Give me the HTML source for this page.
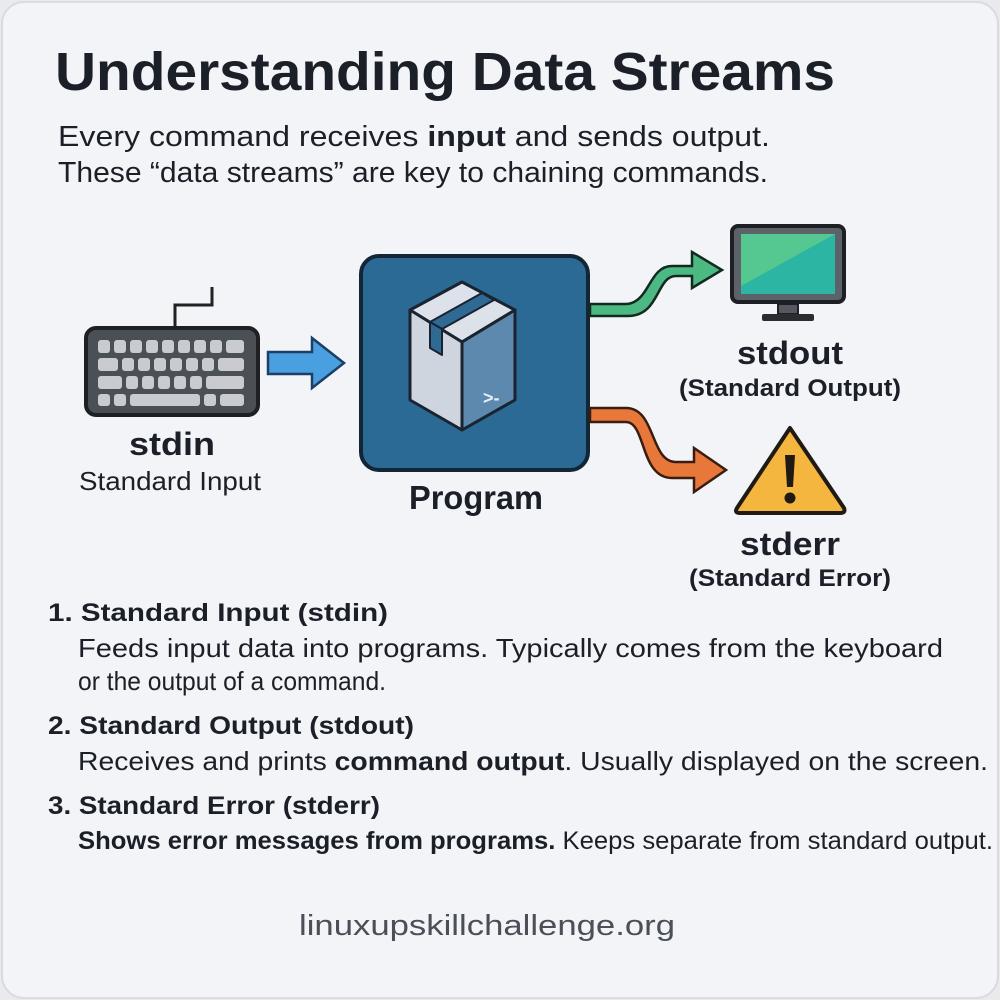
<!DOCTYPE html>
<html><head><meta charset="utf-8"><style>
html,body{margin:0;padding:0;background:#e9eaee}
svg{display:block}
text{font-family:"Liberation Sans",sans-serif;fill:#1b1f27}
</style></head><body>
<svg width="1000" height="1000" viewBox="0 0 1000 1000" xmlns="http://www.w3.org/2000/svg">
<rect x="2" y="2" width="996" height="996" rx="22" fill="#f3f4f8" stroke="#d9dbe0" stroke-width="2"/>
<text x="55" y="90" font-size="54" font-weight="bold" fill="#172235" textLength="780" lengthAdjust="spacingAndGlyphs">Understanding Data Streams</text>
<text x="58" y="146" font-size="29" textLength="712" lengthAdjust="spacingAndGlyphs">Every command receives <tspan font-weight="bold">input</tspan> and sends output.</text>
<text x="58" y="182" font-size="29" textLength="710" lengthAdjust="spacingAndGlyphs">These “data streams” are key to chaining commands.</text>

<!-- keyboard -->
<path d="M175 330 V305 H212 V287" fill="none" stroke="#222" stroke-width="3"/>
<rect x="86" y="328" width="172" height="87" rx="10" fill="#4b4f56" stroke="#1e2024" stroke-width="4"/>
<g fill="#c9cbd0">
<rect x="98" y="340" width="12" height="13" rx="3"/><rect x="114" y="340" width="12" height="13" rx="3"/><rect x="130" y="340" width="12" height="13" rx="3"/><rect x="146" y="340" width="12" height="13" rx="3"/><rect x="162" y="340" width="12" height="13" rx="3"/><rect x="178" y="340" width="12" height="13" rx="3"/><rect x="194" y="340" width="12" height="13" rx="3"/><rect x="210" y="340" width="12" height="13" rx="3"/><rect x="226" y="340" width="18" height="13" rx="3"/>
<rect x="98" y="358" width="20" height="13" rx="3"/><rect x="122" y="358" width="12" height="13" rx="3"/><rect x="138" y="358" width="12" height="13" rx="3"/><rect x="154" y="358" width="12" height="13" rx="3"/><rect x="170" y="358" width="12" height="13" rx="3"/><rect x="186" y="358" width="12" height="13" rx="3"/><rect x="202" y="358" width="12" height="13" rx="3"/><rect x="218" y="358" width="26" height="13" rx="3"/>
<rect x="98" y="376" width="24" height="13" rx="3"/><rect x="126" y="376" width="12" height="13" rx="3"/><rect x="142" y="376" width="12" height="13" rx="3"/><rect x="158" y="376" width="12" height="13" rx="3"/><rect x="174" y="376" width="12" height="13" rx="3"/><rect x="190" y="376" width="12" height="13" rx="3"/><rect x="206" y="376" width="38" height="13" rx="3"/>
<rect x="98" y="394" width="12" height="12" rx="3"/><rect x="114" y="394" width="12" height="12" rx="3"/><rect x="130" y="394" width="70" height="12" rx="3"/><rect x="204" y="394" width="12" height="12" rx="3"/><rect x="220" y="394" width="24" height="12" rx="3"/>
</g>
<text x="172" y="455" font-size="32" font-weight="bold" text-anchor="middle" textLength="86" lengthAdjust="spacingAndGlyphs">stdin</text>
<text x="170" y="490" font-size="26" text-anchor="middle" textLength="182" lengthAdjust="spacingAndGlyphs">Standard Input</text>

<!-- blue arrow -->
<path d="M268 352 H312 V338 L344 363 L312 388 V374 H268 Z" fill="#4a9fe0" stroke="#1c3f66" stroke-width="2.5"/>

<!-- program box -->
<rect x="361" y="256" width="227" height="214" rx="18" fill="#2c6a96" stroke="#122636" stroke-width="4"/>
<g stroke="#1a2430" stroke-width="3" stroke-linejoin="round">
<path d="M410 310 L462 282 L515 310 L462 342 Z" fill="#dde2ea"/>
<path d="M410 310 L462 342 L462 430 L410 400 Z" fill="#cfd5de"/>
<path d="M462 342 L515 310 L515 400 L462 430 Z" fill="#5c89ad"/>
<path d="M430 322 L482 293 L494 300 L442 329 Z" fill="#2f6a95" stroke-width="2"/>
<path d="M430 322 L442 329 L442 355 L430 348 Z" fill="#2f6a95" stroke-width="2"/>
</g>
<text x="483" y="404" font-size="18" font-weight="bold" style="fill:#e8eef5">&gt;-</text>
<text x="476" y="509" font-size="33" font-weight="bold" text-anchor="middle" textLength="134" lengthAdjust="spacingAndGlyphs">Program</text>

<!-- green arrow -->
<path d="M590 304 H625 C650 304 648 266 672 266 H692 V252 L722 270 L692 288 V276 H676 C656 276 660 316 628 316 H590 Z" fill="#4cb882" stroke="#122a20" stroke-width="2.5"/>
<!-- orange arrow -->
<path d="M590 408 H626 C656 408 650 462 676 462 H694 V448 L726 470 L694 492 V478 H672 C640 478 646 422 626 422 H590 Z" fill="#e8773a" stroke="#3a1d10" stroke-width="2.5"/>

<!-- monitor -->
<rect x="732" y="226" width="112" height="76" rx="6" fill="#5d6168" stroke="#1d1f24" stroke-width="4"/>
<rect x="741" y="234" width="94" height="60" fill="#2db5a3"/>
<path d="M741 234 H835 L741 286 Z" fill="#55c790"/>
<rect x="778" y="304" width="20" height="10" fill="#55585e" stroke="#1d1f24" stroke-width="2"/>
<rect x="762" y="314" width="52" height="7" rx="2" fill="#2a2c30"/>
<text x="790" y="364" font-size="32" font-weight="bold" text-anchor="middle" textLength="106" lengthAdjust="spacingAndGlyphs">stdout</text>
<text x="790" y="396" font-size="24" font-weight="bold" text-anchor="middle" textLength="222" lengthAdjust="spacingAndGlyphs">(Standard Output)</text>

<!-- warning -->
<path d="M790 428 L844 508 Q846 513 840 513 H740 Q734 513 737 508 Z" fill="#f5b63f" stroke="#1f1a12" stroke-width="4" stroke-linejoin="round"/>
<path d="M785 455 H795 L793 487 H787 Z" fill="#1f1a12"/>
<circle cx="790" cy="498" r="5.5" fill="#1f1a12"/>
<text x="790" y="555" font-size="32" font-weight="bold" text-anchor="middle" textLength="100" lengthAdjust="spacingAndGlyphs">stderr</text>
<text x="790" y="586" font-size="24" font-weight="bold" text-anchor="middle" textLength="202" lengthAdjust="spacingAndGlyphs">(Standard Error)</text>

<!-- list -->
<text x="48" y="621" font-size="25" font-weight="bold" textLength="340" lengthAdjust="spacingAndGlyphs">1. Standard Input (stdin)</text>
<text x="78" y="657" font-size="26" textLength="865" lengthAdjust="spacingAndGlyphs">Feeds input data into programs. Typically comes from the keyboard</text>
<text x="78" y="690" font-size="26" textLength="308" lengthAdjust="spacingAndGlyphs">or the output of a command.</text>
<text x="48" y="734" font-size="25" font-weight="bold" textLength="366" lengthAdjust="spacingAndGlyphs">2. Standard Output (stdout)</text>
<text x="78" y="770" font-size="26" textLength="910" lengthAdjust="spacingAndGlyphs">Receives and prints <tspan font-weight="bold">command output</tspan>. Usually displayed on the screen.</text>
<text x="48" y="814" font-size="25" font-weight="bold" textLength="332" lengthAdjust="spacingAndGlyphs">3. Standard Error (stderr)</text>
<text x="78" y="849" font-size="25" textLength="915" lengthAdjust="spacingAndGlyphs"><tspan font-weight="bold">Shows error messages from programs.</tspan> Keeps separate from standard output.</text>

<text x="487" y="935" font-size="29" text-anchor="middle" style="fill:#4a4f58" textLength="376" lengthAdjust="spacingAndGlyphs">linuxupskillchallenge.org</text>
</svg>
</body></html>
